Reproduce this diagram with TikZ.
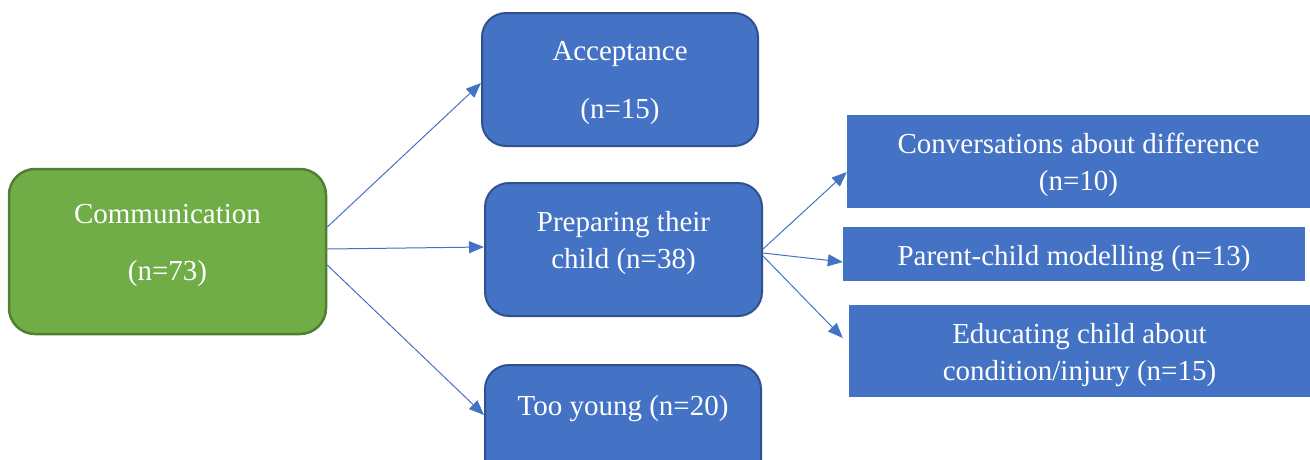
\documentclass[tikz,border=0pt]{standalone}
\usepackage{fontspec}
\setmainfont{Liberation Serif}
\usetikzlibrary{arrows.meta,calc}
\definecolor{themeblue}{HTML}{4472C4}
\definecolor{themeblueedge}{HTML}{2F528F}
\definecolor{themegreen}{HTML}{70AD47}
\definecolor{themegreenedge}{HTML}{507E32}
\tikzset{
  lbl/.style={text=white, align=center, font=\fontsize{29}{37}\selectfont, inner sep=0pt},
  roundbox/.style={rectangle, rounded corners=24pt, fill=themeblue, draw=themeblueedge, line width=2pt},
  greenbox/.style={rectangle, rounded corners=26pt, fill=themegreen, draw=themegreenedge, line width=2.5pt},
  flatbox/.style={rectangle, fill=themeblue, draw=none},
  link/.style={draw=themeblue, line width=1pt, -{Triangle[length=15pt,width=12pt]}}
}
\begin{document}
\begin{tikzpicture}[x=1pt,y=-1pt]
\useasboundingbox (0,0) rectangle (1310,459);

% root and first level boxes
\node[greenbox, minimum width=317pt, minimum height=165pt] (comm) at (167.5,251.5) {};
\node[roundbox, minimum width=276pt, minimum height=133pt] (acc) at (620,79.5) {};
\node[roundbox, minimum width=277pt, minimum height=133pt] (prep) at (623.5,249.5) {};
\node[roundbox, minimum width=276pt, minimum height=133pt] (young) at (623,431.5) {};

% second level boxes under "Preparing their child"
\node[flatbox, minimum width=463pt, minimum height=93pt] (conv) at (1078.5,161.5) {};
\node[flatbox, minimum width=462pt, minimum height=54pt] (model) at (1074,254) {};
\node[flatbox, minimum width=461pt, minimum height=92pt] (edu) at (1079.5,351) {};

% box texts
\node[lbl] (commtxt) at ($(comm.center)+(0,-6.5)$) {Communication\\[20pt](n=73)};
\node[lbl] (acctxt) at ($(acc.center)+(0,3.5)$) {Acceptance\\[21pt](n=15)};
\node[lbl] (preptxt) at ($(prep.center)+(0,-6)$) {Preparing their\\child (n=38)};
\node[lbl] (youngtxt) at ($(young.center)+(0,-22.5)$) {Too young (n=20)};
\node[lbl] (convtxt) at ($(conv.center)+(0,3)$) {Conversations about difference\\(n=10)};
\node[lbl] (modeltxt) at ($(model.center)+(0,5)$) {Parent-child modelling (n=13)};
\node[lbl] (edutxt) at ($(edu.center)+(0,4.5)$) {Educating child about\\condition/injury (n=15)};

% connectors
\draw[link] ([yshift=24.5pt]comm.east) -- ([yshift=-3.5pt]acc.west);
\draw[link] ([yshift=2.5pt]comm.east) -- ([yshift=2.5pt]prep.west);
\draw[link] ([yshift=-13.5pt]comm.east) -- ([yshift=16.5pt]young.west);
\draw[link] ([yshift=0.5pt]prep.east) -- ([yshift=-10.5pt]conv.west);
\draw[link] ([yshift=-3.5pt]prep.east) -- ([yshift=-8pt]model.west);
\draw[link] ([yshift=-6.5pt]prep.east) -- ([xshift=-6pt,yshift=13pt]edu.west);
\end{tikzpicture}
\end{document}
